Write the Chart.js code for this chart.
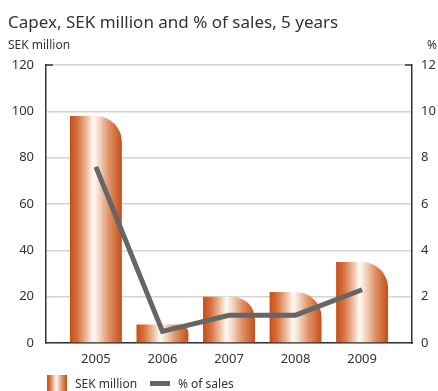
<!DOCTYPE html>
<html lang="en">
<head>
  <meta charset="UTF-8">
  <title>Capex, SEK million and % of sales, 5 years</title>
  <style>
    html, body {
      margin: 0;
      padding: 0;
      background: #fff;
    }
    #wrap {
      width: 438px;
      height: 391px;
    }
  </style>
</head>
<body>
  <div id="wrap"><canvas id="capexChart" width="438" height="391"></canvas></div>
  <script src="https://cdn.jsdelivr.net/npm/chart.js"></script>
  <script>
    const years = ['2005', '2006', '2007', '2008', '2009'];
    const capexSek = [98, 8, 20, 22, 35];
    const pctOfSales = [7.6, 0.5, 1.2, 1.2, 2.3];
    const leftTicks = [0, 20, 40, 60, 80, 100, 120];
    const rightTicks = [0, 2, 4, 6, 8, 10, 12];

    const FONT = "'Noto Sans', 'Open Sans', sans-serif";
    const INK = '#333333';
    const BAR_PCT = 0.78;

    // copper gradient running across one bar, left edge to right edge
    function copper(ctx, x0, x1) {
      const g = ctx.createLinearGradient(x0, 0, x1, 0);
      g.addColorStop(0, '#c64e17');
      g.addColorStop(0.15, '#d6733f');
      g.addColorStop(0.32, '#eebb9d');
      g.addColorStop(0.45, '#fffaf6');
      g.addColorStop(0.55, '#f6dccd');
      g.addColorStop(0.75, '#e09267');
      g.addColorStop(1, '#c64e17');
      return g;
    }

    function barFill(context) {
      const chart = context.chart;
      if (!chart.chartArea || context.dataIndex === undefined) return '#d6733f';
      const xs = chart.scales.x;
      const cx = xs.getPixelForValue(context.dataIndex);
      const w = (xs.getPixelForValue(1) - xs.getPixelForValue(0)) * BAR_PCT;
      return copper(chart.ctx, cx - w / 2, cx + w / 2);
    }

    // title, unit captions, top axis ticks and legend
    const decorations = {
      id: 'decorations',
      afterDraw(chart) {
        const ctx = chart.ctx;
        const area = chart.chartArea;
        ctx.save();
        ctx.fillStyle = INK;
        ctx.textBaseline = 'alphabetic';
        ctx.textAlign = 'left';
        ctx.font = '17px ' + FONT;
        ctx.fillText('Capex, SEK million and % of sales, 5 years', 8, 28);
        ctx.font = '12px ' + FONT;
        ctx.fillText('SEK million', 8, 49);
        ctx.fillText('%', 427, 49);

        ctx.strokeStyle = INK;
        ctx.lineWidth = 1.5;
        ctx.beginPath();
        ctx.moveTo(area.left, area.top);
        ctx.lineTo(area.left + 7, area.top);
        ctx.moveTo(area.right - 7, area.top);
        ctx.lineTo(area.right, area.top);
        ctx.stroke();

        // legend
        ctx.fillStyle = copper(ctx, 47, 67);
        ctx.fillRect(47, 375, 20, 16);
        ctx.fillStyle = INK;
        ctx.font = '12px ' + FONT;
        ctx.fillText('SEK million', 75, 388);
        ctx.fillStyle = '#666666';
        ctx.fillRect(150, 381, 20, 5);
        ctx.fillStyle = INK;
        ctx.fillText('% of sales', 178, 388);
        ctx.restore();
      }
    };

    new Chart(document.getElementById('capexChart'), {
      data: {
        datasets: [
          {
            type: 'line',
            label: '% of sales',
            data: pctOfSales.map((v, i) => ({ x: i, y: v })),
            yAxisID: 'y1',
            borderColor: '#666666',
            borderWidth: 5,
            borderJoinStyle: 'miter',
            borderCapStyle: 'butt',
            pointRadius: 0,
            tension: 0,
            order: 0
          },
          {
            type: 'bar',
            label: 'SEK million',
            data: capexSek.map((v, i) => ({ x: i, y: v })),
            yAxisID: 'y',
            backgroundColor: barFill,
            borderWidth: 0,
            borderSkipped: false,
            borderRadius: { topLeft: 0, topRight: 40, bottomLeft: 0, bottomRight: 0 },
            categoryPercentage: 1,
            barPercentage: BAR_PCT,
            order: 1
          }
        ]
      },
      options: {
        responsive: false,
        animation: false,
        layout: { padding: { top: 65, left: 0, right: 0, bottom: 0 } },
        plugins: {
          legend: { display: false },
          tooltip: { enabled: false }
        },
        scales: {
          x: {
            type: 'linear',
            min: -0.75,
            max: 4.75,
            offset: false,
            afterFit(s) { s.height = 48; },
            afterBuildTicks(s) { s.ticks = years.map((_, i) => ({ value: i })); },
            grid: { display: false, drawTicks: false, offset: false },
            border: { display: true, color: INK, width: 1.5 },
            ticks: {
              padding: 8,
              color: INK,
              font: { family: FONT, size: 13 },
              callback: (v) => years[v]
            }
          },
          y: {
            position: 'left',
            min: 0,
            max: 120,
            afterFit(s) { s.width = 46; },
            afterBuildTicks(s) { s.ticks = leftTicks.map(v => ({ value: v })); },
            grid: { color: '#d6d6ce', lineWidth: 1.5, drawTicks: false },
            border: { display: true, color: INK, width: 1.5 },
            ticks: {
              padding: 12,
              color: INK,
              font: { family: FONT, size: 13 }
            }
          },
          y1: {
            position: 'right',
            min: 0,
            max: 12,
            afterFit(s) { s.width = 26; },
            afterBuildTicks(s) { s.ticks = rightTicks.map(v => ({ value: v })); },
            grid: { display: false, drawTicks: false },
            border: { display: true, color: INK, width: 1.5 },
            ticks: {
              padding: 9,
              color: INK,
              font: { family: FONT, size: 13 }
            }
          }
        }
      },
      plugins: [decorations]
    });
  </script>
</body>
</html>
